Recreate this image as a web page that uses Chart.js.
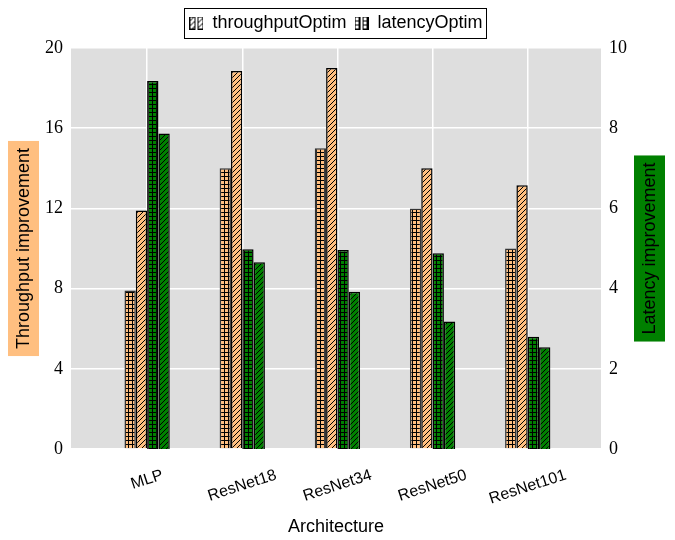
<!DOCTYPE html>
<html>
<head>
<meta charset="utf-8">
<script src="https://cdn.jsdelivr.net/npm/chart.js@4.4.1/dist/chart.umd.min.js"></script>
<style>
  html, body { margin: 0; padding: 0; background: #fff; }
  #wrap { width: 675px; height: 540px; }
</style>
</head>
<body>
<div id="wrap"><canvas id="chart"></canvas></div>
<script>
"use strict";

const categories = ['MLP', 'ResNet18', 'ResNet34', 'ResNet50', 'ResNet101'];
// throughput improvement (left axis)
const tputLatencyOptim = [7.9, 14.0, 15.0, 12.0, 10.0];
const tputThroughputOptim = [11.9, 18.85, 19.0, 14.0, 13.15];
// latency improvement (right axis)
const latLatencyOptim = [9.18, 4.98, 4.96, 4.88, 2.8];
const latThroughputOptim = [7.87, 4.66, 3.92, 3.18, 2.54];
const leftTicks = [0, 4, 8, 12, 16, 20];
const rightTicks = [0, 2, 4, 6, 8, 10];

const ORANGE = '#ffbf80';
const GREEN = '#008000';
const SERIF = '"Liberation Serif", "DejaVu Serif", serif';
const SANS = '"Liberation Sans", Arial, sans-serif';

function hatch(bg, kind) {
    const n = kind === 'grid' ? 4 : 5;
    const c = document.createElement('canvas');
    c.width = n; c.height = n;
    const g = c.getContext('2d');
    g.fillStyle = bg;
    g.fillRect(0, 0, n, n);
    g.strokeStyle = '#000';
    g.lineWidth = 1;
    g.beginPath();
    if (kind === 'grid') {
        g.moveTo(0, 0.5); g.lineTo(n, 0.5);
        g.moveTo(0.5, 0); g.lineTo(0.5, n);
    } else {
        g.moveTo(-1, n + 1); g.lineTo(n + 1, -1);
        g.moveTo(-1, 1); g.lineTo(1, -1);
        g.moveTo(n - 1, n + 1); g.lineTo(n + 1, n - 1);
    }
    g.stroke();
    return g.createPattern(c, 'repeat');
}

function legendIcon(kind) {
    const c = document.createElement('canvas');
    c.width = 14; c.height = 13;
    const g = c.getContext('2d');
    [0, 8].forEach(x0 => {
        g.fillStyle = hatch('#ffffff', kind);
        g.fillRect(x0 + 0.5, 0.5, 5, 12);
        g.strokeStyle = '#000';
        g.lineWidth = 1;
        g.strokeRect(x0 + 0.5, 0.5, 5, 12);
    });
    return c;
}

const toXY = arr => arr.map((v, i) => ({ x: i, y: v }));

const decor = {
    id: 'decor',
    afterInit(chart) {
        // leave a little more room under the legend
        const lg = chart.legend;
        if (lg && !lg._patched) {
            const fit = lg.fit;
            lg.fit = function () { fit.call(this); this.height += 6; };
            lg._patched = true;
        }
    },
    beforeDraw(chart) {
        const a = chart.chartArea, ctx = chart.ctx;
        ctx.save();
        ctx.fillStyle = '#dedede';
        ctx.fillRect(a.left, a.top, a.right - a.left, a.bottom - a.top);
        ctx.restore();
    },
    afterDraw(chart) {
        const a = chart.chartArea, ctx = chart.ctx;
        const xs = chart.scales.x;
        ctx.save();
        // x tick labels, rotated and centred like the original
        ctx.font = '16px ' + SANS;
        ctx.fillStyle = '#000';
        ctx.textAlign = 'center';
        ctx.textBaseline = 'middle';
        const rot = 18 * Math.PI / 180;
        categories.forEach((lab, i) => {
            const w = ctx.measureText(lab).width;
            const h = 12;
            const bh = w * Math.sin(rot) + h * Math.cos(rot);
            const px = xs.getPixelForValue(i);
            ctx.save();
            ctx.translate(px, a.bottom + 20 + bh / 2);
            ctx.rotate(-rot);
            ctx.fillText(lab, 0, 0);
            ctx.restore();
        });
        // x title
        ctx.font = '18px ' + SANS;
        ctx.fillText('Architecture', (a.left + a.right) / 2, 527);

        // y titles with coloured boxes
        const midY = (a.top + a.bottom) / 2;
        const drawTitle = (text, cx, bg) => {
            ctx.font = '18px ' + SANS;
            const w = ctx.measureText(text).width;
            ctx.save();
            ctx.translate(cx, midY);
            ctx.rotate(-Math.PI / 2);
            ctx.fillStyle = bg;
            ctx.fillRect(-w / 2 - 7, -15.5, w + 14, 31);
            ctx.fillStyle = '#000';
            ctx.textAlign = 'center';
            ctx.textBaseline = 'middle';
            ctx.fillText(text, 0, 1);
            ctx.restore();
        };
        drawTitle('Throughput improvement', 23.5, ORANGE);
        drawTitle('Latency improvement', 649.5, GREEN);

        // legend frame
        const boxes = chart.legend.legendHitBoxes;
        if (boxes && boxes.length) {
            const l = Math.min(...boxes.map(b => b.left)) - 5;
            const r = Math.max(...boxes.map(b => b.left + b.width)) + 4;
            const t = Math.min(...boxes.map(b => b.top)) - 6;
            const bt = Math.max(...boxes.map(b => b.top + b.height)) + 6;
            ctx.strokeStyle = '#000';
            ctx.lineWidth = 1;
            ctx.strokeRect(Math.round(l) + 0.5, Math.round(t) + 0.5, Math.round(r - l), Math.round(bt - t));
        }
        ctx.restore();
    }
};

new Chart(document.getElementById('chart'), {
    type: 'bar',
    data: {
        datasets: [
            { label: 'tput latencyOptim', data: toXY(tputLatencyOptim), yAxisID: 'y',
              backgroundColor: hatch(ORANGE, 'grid'), borderColor: '#333', borderWidth: 1.5 },
            { label: 'tput throughputOptim', data: toXY(tputThroughputOptim), yAxisID: 'y',
              backgroundColor: hatch(ORANGE, 'diag'), borderColor: '#000', borderWidth: 1.5 },
            { label: 'lat latencyOptim', data: toXY(latLatencyOptim), yAxisID: 'y1',
              backgroundColor: hatch(GREEN, 'grid'), borderColor: '#000', borderWidth: 1.5 },
            { label: 'lat throughputOptim', data: toXY(latThroughputOptim), yAxisID: 'y1',
              backgroundColor: hatch(GREEN, 'diag'), borderColor: '#000', borderWidth: 1.5 }
        ]
    },
    options: {
        responsive: true,
        maintainAspectRatio: false,
        animation: false,
        categoryPercentage: 0.476,
        barPercentage: 1,
        layout: { padding: { left: 37, right: 40, top: 6, bottom: 91 } },
        plugins: {
            tooltip: { enabled: false },
            legend: {
                position: 'top',
                onClick: null,
                labels: {
                    font: { size: 18, family: SANS },
                    color: '#000',
                    usePointStyle: true,
                    pointStyleWidth: 14,
                    boxHeight: 13,
                    padding: 8,
                    generateLabels: () => [
                        { text: 'throughputOptim', pointStyle: legendIcon('diag'), fillStyle: '#fff', lineWidth: 0, strokeStyle: '#000' },
                        { text: 'latencyOptim', pointStyle: legendIcon('grid'), fillStyle: '#fff', lineWidth: 0, strokeStyle: '#000' }
                    ]
                }
            }
        },
        scales: {
            x: {
                type: 'linear',
                offset: false,
                min: -0.8,
                max: 4.77,
                afterBuildTicks: s => { s.ticks = categories.map((c, i) => ({ value: i })); },
                ticks: { display: false },
                grid: { color: '#ffffff', lineWidth: 1.5, drawTicks: false, offset: false },
                border: { display: false }
            },
            y: {
                position: 'left',
                min: 0,
                max: 20,
                afterBuildTicks: s => { s.ticks = leftTicks.map(v => ({ value: v })); },
                ticks: { font: { size: 18, family: SERIF }, color: '#000', padding: 8 },
                grid: { color: '#ffffff', lineWidth: 1.5, drawTicks: false },
                border: { display: false }
            },
            y1: {
                position: 'right',
                min: 0,
                max: 10,
                afterBuildTicks: s => { s.ticks = rightTicks.map(v => ({ value: v })); },
                ticks: { font: { size: 18, family: SERIF }, color: '#000', padding: 8 },
                grid: { display: false, drawTicks: false },
                border: { display: false }
            }
        }
    },
    plugins: [decor]
});
</script>
</body>
</html>
